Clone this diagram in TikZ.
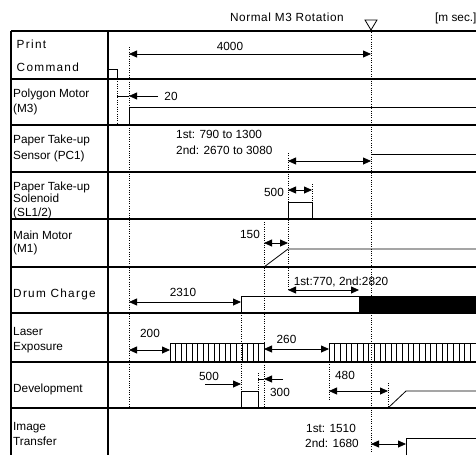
\documentclass[tikz,border=0pt]{standalone}
\usepackage{fontspec}
\setmainfont{Liberation Sans}
\newfontfamily\spcfont[LetterSpace=11]{Liberation Sans}
\newfontfamily\hdrfont[LetterSpace=5]{Liberation Sans}
\usetikzlibrary{arrows.meta}
\begin{document}
\begin{tikzpicture}[x=1pt,y=-1pt,
  grid/.style={line width=1.6pt},
  sig/.style={line width=0.8pt},
  hatch/.style={line width=0.7pt},
  dots/.style={line width=0.7pt, dash pattern=on 1pt off 1.3pt},
  dim/.style={line width=0.8pt, {Triangle[length=8pt,width=7pt]}-{Triangle[length=8pt,width=7pt]}},
  dimr/.style={line width=0.8pt, -{Triangle[length=8pt,width=7pt]}},
  txt/.style={font=\fontsize{11.8}{14}\selectfont, inner sep=0pt, anchor=base west},
  stxt/.style={font=\fontsize{11.8}{14}\selectfont\spcfont, inner sep=0pt, anchor=base west},
  num/.style={font=\fontsize{11.8}{14}\selectfont, inner sep=0pt, anchor=base},
]
\useasboundingbox (0,0) rectangle (476,455);

% ---------- table ----------
\foreach \y in {31,79,125,172,219,267,313,362,408}
  \draw[grid] (11,\y) -- (476,\y);
\draw[grid] (11,31) -- (11,455);
\draw[grid] (108,31) -- (108,455);

% ---------- header ----------
\node[txt, font=\fontsize{11.8}{14}\selectfont\hdrfont, anchor=base east] (hdr) at (344,21) {Normal M3 Rotation};
\node[txt] (unit) at (435,21) {[m sec.]};
\coordinate (triL) at (365,20);
\coordinate (triR) at (377,20);
\coordinate (triA) at (371,30);
\draw[line width=0.8pt, line join=miter] (triL) -- (triR) -- (triA) -- cycle;

% ---------- row labels ----------
\node[stxt] (l1a) at (16.5,48) {Print};
\node[stxt] (l1b) at (16.5,71) {Command};
\node[txt] (l2a) at (13,97) {Polygon Motor};
\node[txt] (l2b) at (13,112.5) {(M3)};
\node[txt] (l3a) at (13,143.3) {Paper Take-up};
\node[txt] (l3b) at (13,159) {Sensor (PC1)};
\node[txt] (l4a) at (13,190) {Paper Take-up};
\node[txt] (l4b) at (13,202.7) {Solenoid};
\node[txt] (l4c) at (13,216) {(SL1/2)};
\node[txt] (l5a) at (13,239) {Main Motor};
\node[txt] (l5b) at (13,252) {(M1)};
\node[stxt] (l6a) at (13,297) {Drum Charge};
\node[txt] (l7a) at (13,335) {Laser};
\node[txt] (l7b) at (13,350) {Exposure};
\node[txt] (l8a) at (13,392) {Development};
\node[txt] (l9a) at (13,430) {Image};
\node[txt] (l9b) at (13,445) {Transfer};

% ---------- dotted guide lines ----------
\draw[dots] (117,79) -- (117,125);
\draw[dots] (129,47) -- (129,408);
\draw[dots] (triA) -- (371,452);
\draw[dots] (288,153) -- (288,290);
\draw[dots] (312,184) -- (312,202);
\draw[dots] (264,222) -- (264,408);
\draw[dots] (241,313) -- (241,391);
\draw[dots] (258,373) -- (258,391);
\draw[dots] (329,362) -- (329,401);
\draw[dots] (388,383) -- (388,408);

% ---------- signals ----------
\draw[sig] (108,69) -- (117,69) -- (117,79);
\draw[sig] (129,125) -- (129,107) -- (476,107);
\draw[sig] (371,154) -- (476,154);
\draw[sig] (288,219) -- (288,202) -- (312,202) -- (312,219);
\draw[sig] (264,267) -- (288,249) -- (476,249);
\draw[sig] (241,313) -- (241,296) -- (359,296);
\fill[black] (359,296) rectangle (476,313);
% laser exposure hatching
\draw[sig] (170,362) -- (170,343) -- (264,343) -- (264,362);
\foreach \x in {170,175.53,...,264} \draw[hatch] (\x,343) -- (\x,362);
\draw[sig] (329,362) -- (329,343) -- (476,343);
\foreach \x in {329,334.65,...,476} \draw[hatch] (\x,343) -- (\x,362);
% development
\draw[sig] (241,408) -- (241,391) -- (258,391) -- (258,408);
\draw[sig] (388,408) -- (406,391) -- (476,391);
% image transfer
\draw[sig] (406,455) -- (406,438) -- (476,438);

% ---------- dimension arrows ----------
\coordinate (d1a) at (129,54);  \coordinate (d1b) at (371,54);
\draw[dim] (d1a) -- (d1b);
\node[num] (n4000) at (230,50) {4000};

\coordinate (d2s) at (117,96); \coordinate (d2a) at (129,96); \coordinate (d2b) at (158,96);
\draw[sig] (d2s) -- (d2a);
\draw[dimr] (d2b) -- (d2a);
\node[num] (n20) at (171,100) {20};

\node[txt] (n790) at (176,138.5) {1st: 790 to 1300};
\node[txt] (n2670) at (176,154) {2nd: 2670 to 3080};
\coordinate (d3a) at (288,161); \coordinate (d3b) at (371,161);
\draw[dim] (d3a) -- (d3b);

\coordinate (d4a) at (288,190); \coordinate (d4b) at (312,190);
\draw[dim] (d4a) -- (d4b);
\node[num] (n500a) at (274,196.7) {500};

\coordinate (d5a) at (264,243); \coordinate (d5b) at (288,243);
\draw[dim] (d5a) -- (d5b);
\node[num] (n150) at (250,238) {150};

\coordinate (d6a) at (129,302); \coordinate (d6b) at (241,302);
\draw[dim] (d6a) -- (d6b);
\node[num] (n2310) at (183,296) {2310};

\coordinate (d7a) at (288,290); \coordinate (d7b) at (359,290);
\draw[dim] (d7a) -- (d7b);
\node[num] (n770) at (341,285) {1st:770, 2nd:2820};

\coordinate (d8a) at (129,350); \coordinate (d8b) at (170,350);
\draw[dim] (d8a) -- (d8b);
\node[num] (n200) at (150,337) {200};

\coordinate (d9a) at (264,349); \coordinate (d9b) at (329,349);
\draw[dim] (d9a) -- (d9b);
\node[num] (n260) at (286.5,343) {260};

\coordinate (d10a) at (205,384); \coordinate (d10b) at (241,384);
\draw[dimr] (d10a) -- (d10b);
\node[num] (n500b) at (209,380) {500};

\coordinate (d11s) at (258,379); \coordinate (d11a) at (264,379); \coordinate (d11b) at (283,379);
\draw[sig] (d11s) -- (d11a);
\draw[dimr] (d11b) -- (d11a);
\node[num] (n300) at (280,396) {300};

\coordinate (d12a) at (329,391); \coordinate (d12b) at (388,391);
\draw[dim] (d12a) -- (d12b);
\node[num] (n480) at (345,379.5) {480};

\coordinate (d13a) at (371,444); \coordinate (d13b) at (406,444);
\draw[dim] (d13a) -- (d13b);
\node[txt] (n1510) at (306,432) {1st: 1510};
\node[txt] (n1680) at (305,447.5) {2nd: 1680};
\end{tikzpicture}
\end{document}
